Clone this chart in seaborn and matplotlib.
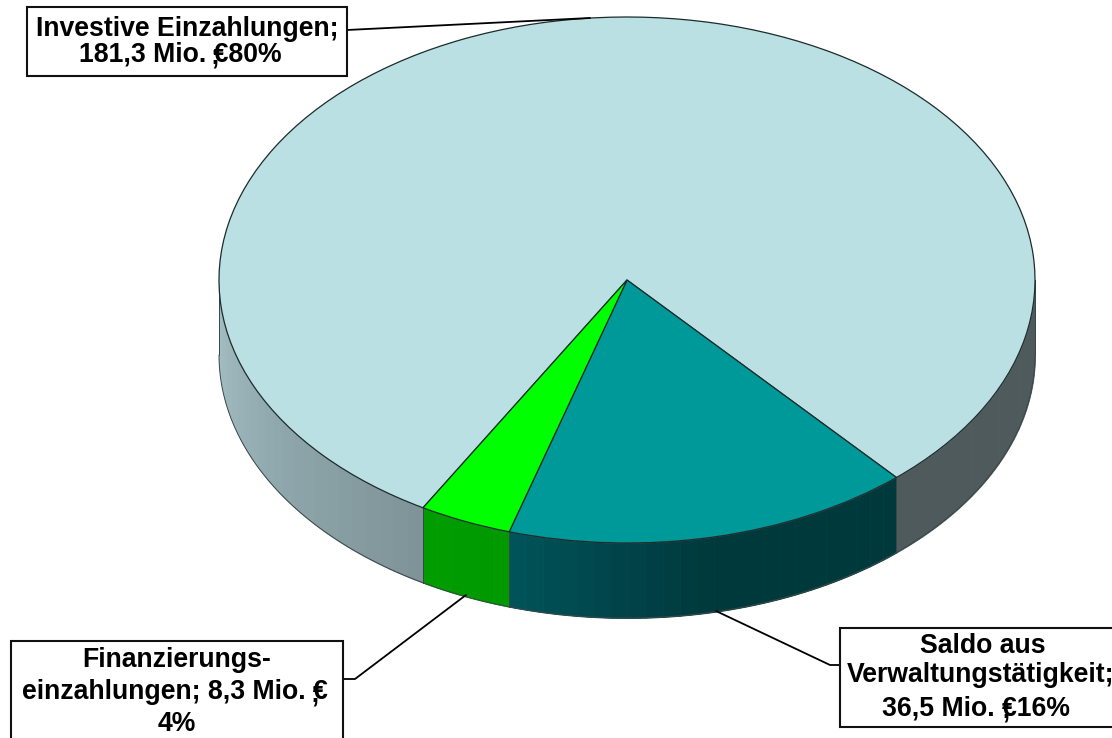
import numpy as np
import matplotlib
matplotlib.use('Agg')
import matplotlib.pyplot as plt
import seaborn as sns
from matplotlib.colors import LinearSegmentedColormap
from matplotlib.patches import Rectangle

# values from the chart, clockwise from the big slice
categories = ['Investive Einzahlungen', 'Saldo aus Verwaltungstätigkeit', 'Finanzierungseinzahlungen']
values = [181.3, 36.5, 8.3]
top_colors = ['#BBE0E3', '#009999', '#00FF00']

label_invest = ['Investive Einzahlungen;', '181,3 Mio. €80%']
label_saldo = ['Saldo aus', 'Verwaltungstätigkeit;', '36,5 Mio. €16%']
label_finanz = ['Finanzierungs-', 'einzahlungen; 8,3 Mio. €', '4%']

W, H = 1112, 738
CX, CY, RX, RY = 627, 280, 408, 263
DEPTH = 75 / RY
EDGE = '#1c2b2c'
FS = 19.2

sns.set_theme(style='white')
plt.rcParams['font.family'] = ['Liberation Sans', 'DejaVu Sans']


# pixel position in the reference -> data coordinates of the pie
def px(x, y):
    return (x - CX) / RX, (CY - y) / RY


fig = plt.figure(figsize=(W / 100, H / 100), dpi=100)
ax = fig.add_axes([0, 0, 1, 1])

wedges, _ = ax.pie(values, colors=top_colors, startangle=240, counterclock=False,
                   radius=1, center=(0, 0),
                   wedgeprops={'edgecolor': EDGE, 'linewidth': 0.9, 'zorder': 3})
ax.set_aspect('auto')
ax.set_xlim(px(0, 0)[0], px(W, 0)[0])
ax.set_ylim(px(0, H)[1], px(0, 0)[1])
ax.axis('off')


# side wall between two angles, shaded in narrow bands from left to right
def wall(a1, a2, shades, n=24):
    cmap = LinearSegmentedColormap.from_list('w', shades)
    edges = np.linspace(a1, a2, n + 1)
    for i in range(n):
        t = np.radians(np.linspace(edges[i], edges[i + 1], 8))
        x, y = np.cos(t), np.sin(t)
        col = cmap(i / max(n - 1, 1))
        ax.fill_between(x, y - DEPTH, y, color=col, linewidth=0.6, zorder=1)
    t = np.radians(np.linspace(a1, a2, 200))
    ax.plot(np.cos(t), np.sin(t) - DEPTH, color='#3a4748', lw=0.7, zorder=2)
    for a in (a1, a2):
        r = np.radians(a)
        ax.plot([np.cos(r)] * 2, [np.sin(r), np.sin(r) - DEPTH], color='#3a4748', lw=0.7, zorder=2)


w_invest, w_saldo, w_finanz = wedges
# matplotlib keeps wedge angles counterclockwise
a_saldo = sorted([w_saldo.theta1, w_saldo.theta2])
a_finanz = sorted([w_finanz.theta1, w_finanz.theta2])
wall(180, a_finanz[0] % 360, ['#A6BFC4', '#90A9AE', '#7F9498'])
wall(a_finanz[0], a_finanz[1], ['#009C00', '#009A00'], n=6)
wall(a_saldo[0], a_saldo[1], ['#005459', '#00444A', '#00393B', '#00393B', '#00393B'])
wall(a_saldo[1], 360 if a_saldo[1] > 0 else 0, ['#4E5A5C', '#4E5A5C'], n=6)


# label boxes and their leader lines (pixel layout of the reference)
def box(x0, y0, x1, y1, lines, ys):
    (a, b), (c, d) = px(x0, y1), px(x1, y0)
    ax.add_patch(Rectangle((a, b), c - a, d - b, facecolor='white', edgecolor='#111111',
                           linewidth=1.5, zorder=5))
    for line, (tx, ty) in zip(lines, ys):
        ax.text(*px(tx, ty), line, ha='center', va='center', fontsize=FS,
                fontweight='bold', color='black', zorder=6)


def leader(points):
    xy = np.array([px(*p) for p in points])
    ax.plot(xy[:, 0], xy[:, 1], color='black', lw=1.3, zorder=4)


leader([(347, 30), (590, 18)])
leader([(343, 679), (355, 679), (466, 595)])
leader([(840, 665), (830, 665), (716, 611)])

box(27, 7, 347, 76, label_invest, [(187, 29), (180, 54)])
box(11, 641, 343, 740, label_finanz, [(177, 660), (175, 692), (177, 724)])
box(840, 628, 1114, 727, label_saldo, [(983, 646), (981, 675), (976, 708)])

# the stray semicolons that sit under the euro signs in the reference
for x, y in [(215, 56), (315, 694), (1006, 710)]:
    ax.text(*px(x, y), ';', ha='center', va='center', fontsize=FS, fontweight='bold',
            color='black', zorder=6)

fig.savefig('out.png', dpi=100)
